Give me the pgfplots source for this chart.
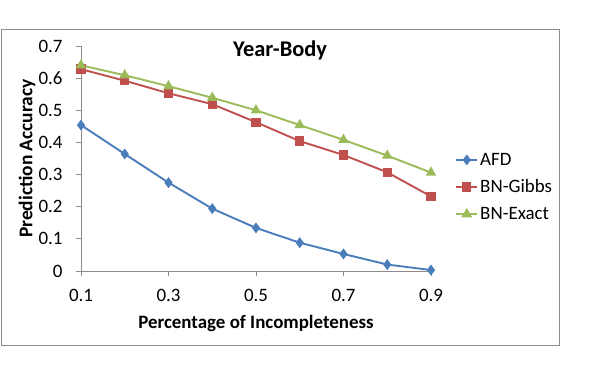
\documentclass[border=0pt]{standalone}
\usepackage{fontspec}
\setmainfont{Carlito}
\usepackage{pgfplots}
\pgfplotsset{compat=1.18}
\definecolor{afd}{RGB}{74,126,187}
\definecolor{gibbs}{RGB}{192,80,77}
\definecolor{exact}{RGB}{155,187,89}
\definecolor{frame}{RGB}{140,140,140}

\begin{document}
\begin{tikzpicture}
\useasboundingbox (0bp,0bp) rectangle (598bp,375bp);
% chart area border
\draw[frame, line width=0.9bp] (1bp,30bp) rectangle (559bp,346bp);
\begin{axis}[
    at={(81bp,104bp)}, anchor=south west,
    scale only axis, width=350bp, height=225bp,
    xmin=0.1, xmax=0.9, ymin=0, ymax=0.7,
    clip=false,
    axis x line=bottom, axis y line=left,
    axis line style={-, frame, line width=0.8bp},
    tick style={frame, line width=0.8bp},
    tick align=outside, major tick length=5bp,
    xtick={0.1,0.3,0.5,0.7,0.9},
    xticklabels={0.1,0.3,0.5,0.7,0.9},
    ytick={0,0.1,0.2,0.3,0.4,0.5,0.6,0.7},
    yticklabels={0,0.1,0.2,0.3,0.4,0.5,0.6,0.7},
    /pgf/number format/assume math mode=true,
    tick label style={font=\fontsize{19}{22}\selectfont},
    xticklabel style={yshift=-10bp},
    yticklabel style={xshift=-10bp},
    title={\textbf{Year-Body}},
    title style={font=\fontsize{22.5}{26}\selectfont, at={(axis description cs:0.569,0.925)}, anchor=base},
    xlabel={\textbf{Percentage of Incompleteness}},
    xlabel style={font=\fontsize{19}{22}\selectfont, at={(axis description cs:0.5,-0.231)}, anchor=center},
    ylabel={\textbf{Prediction Accuracy}},
    ylabel style={font=\fontsize{19.5}{22}\selectfont, at={(axis description cs:-0.154,0.5)}, anchor=center},
    legend style={at={(axis description cs:1.069,0.373)}, anchor=west,
        draw=none, fill=none, inner sep=0pt, row sep=9bp,
        font=\fontsize{19}{22}\selectfont,
        /tikz/every odd column/.append style={column sep=0pt}},
    legend cell align=left,
    legend image code/.code={%
        \draw[mark repeat=2, mark phase=2, line width=1.9bp]
        plot coordinates {(0bp,0bp) (10.5bp,0bp) (21bp,0bp)};},
    every axis plot/.append style={line width=1.9bp},
]

\addplot[afd, mark=diamond*, mark size=3.9bp] coordinates {
    (0.1,0.454) (0.2,0.364) (0.3,0.275) (0.4,0.194) (0.5,0.134)
    (0.6,0.088) (0.7,0.053) (0.8,0.020) (0.9,0.003)
};
\addlegendentry{AFD}

\addplot[gibbs, mark=square*, mark size=3.7bp] coordinates {
    (0.1,0.628) (0.2,0.592) (0.3,0.553) (0.4,0.519) (0.5,0.463)
    (0.6,0.404) (0.7,0.361) (0.8,0.307) (0.9,0.232)
};
\addlegendentry{BN-Gibbs}

\addplot[exact, mark=triangle*, mark size=4.3bp] coordinates {
    (0.1,0.640) (0.2,0.609) (0.3,0.575) (0.4,0.539) (0.5,0.500)
    (0.6,0.454) (0.7,0.408) (0.8,0.359) (0.9,0.306)
};
\addlegendentry{BN-Exact}

\end{axis}
\end{tikzpicture}
\end{document}
